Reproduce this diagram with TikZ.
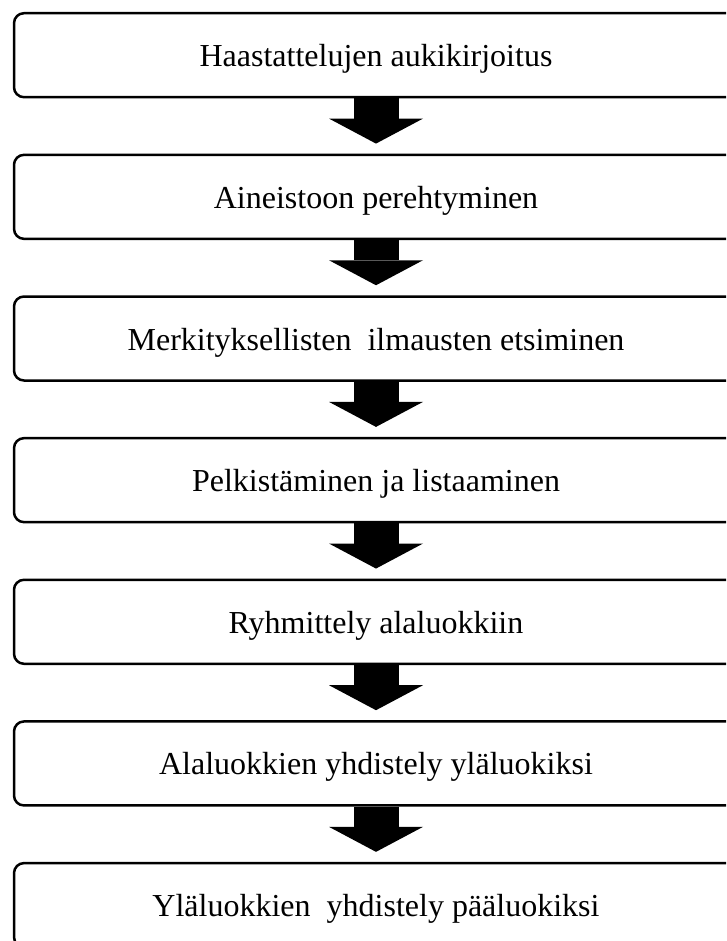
\documentclass[tikz,border=0pt]{standalone}
\usepackage{fontspec}
\setmainfont{Liberation Serif}
\usepackage{tikz}
\usetikzlibrary{arrows.meta}

\begin{document}
\begin{tikzpicture}[
  stage/.style={draw, rectangle, rounded corners=10pt, line width=2.5pt, minimum width=724pt, minimum height=84pt, inner sep=0pt, text height=23pt, text depth=0pt, font=\fontsize{32pt}{38pt}\selectfont},
  flow/.style={line width=45pt, -{Triangle[width=94pt, length=25pt, line width=0pt]}, shorten >=10pt}
]
\useasboundingbox (0,0) rectangle (726pt,-941pt);
\clip (0,0) rectangle (726pt,-941pt);

\node[stage] (B1) at (376pt, -55.2pt) {Haastattelujen aukikirjoitus};
\node[stage] (B2) at (376pt, -196.85pt) {Aineistoon perehtyminen};
\node[stage] (B3) at (376pt, -338.5pt) {Merkityksellisten\ \ ilmausten etsiminen};
\node[stage] (B4) at (376pt, -480.15pt) {Pelkistäminen ja listaaminen};
\node[stage] (B5) at (376pt, -621.8pt) {Ryhmittely alaluokkiin};
\node[stage] (B6) at (376pt, -763.45pt) {Alaluokkien yhdistely yläluokiksi};
\node[stage] (B7) at (376pt, -905.1pt) {Yläluokkien\ \ yhdistely pääluokiksi};

\draw[flow] (B1) -- (B2);
\draw[flow] (B2) -- (B3);
\draw[flow] (B3) -- (B4);
\draw[flow] (B4) -- (B5);
\draw[flow] (B5) -- (B6);
\draw[flow] (B6) -- (B7);
\end{tikzpicture}
\end{document}
